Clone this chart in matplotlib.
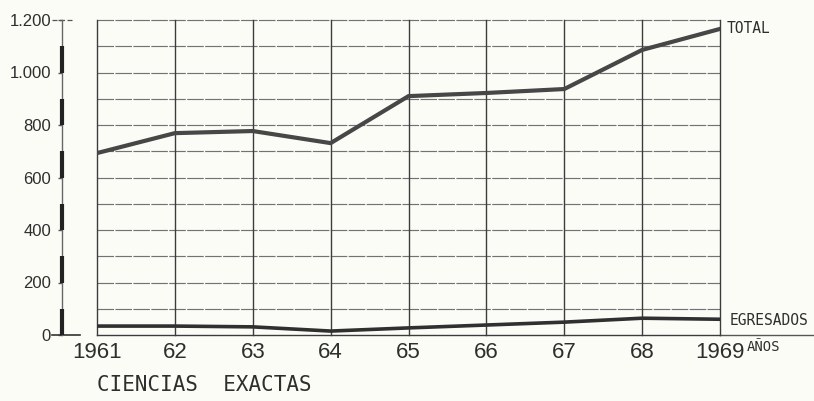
import matplotlib
matplotlib.use("Agg")
import matplotlib.pyplot as plt
import matplotlib.transforms as mtransforms

years = [1961, 1962, 1963, 1964, 1965, 1966, 1967, 1968, 1969]
year_labels = ["1961", "62", "63", "64", "65", "66", "67", "68", "1969"]
total = [693, 769, 777, 731, 910, 922, 937, 1086, 1166]
egresados = [34, 34, 31, 15, 27, 38, 49, 64, 60]
y_ticks = [0, 200, 400, 600, 800, 1000, 1200]
y_labels = ["0", "200", "400", "600", "800", "1.000", "1.200"]

bg = "#fcfcf7"
ink = "#2e2e2e"

fig = plt.figure(figsize=(8.14, 4.01), dpi=100, facecolor=bg)
ax = fig.add_axes([97 / 814, 66 / 401, 623 / 814, 315 / 401])
ax.set_facecolor(bg)

ax.set_xlim(1961, 1969)
ax.set_ylim(0, 1200)

# cuadricula
for y in range(100, 1300, 100):
    ax.axhline(y, color="#727272", lw=0.85, ls=(0, (14, 1.2)), zorder=1,
               clip_on=False)
for x in years:
    ax.axvline(x, color="#3c3c3c", lw=1.0, zorder=1, clip_on=False)

ax.plot(years, total, color="#474747", lw=3.0, solid_joinstyle="miter", zorder=3)
ax.plot(years, egresados, color="#303030", lw=2.6, zorder=3)

for s in ["top", "right"]:
    ax.spines[s].set_visible(False)
ax.spines["bottom"].set_color("#3c3c3c")
ax.spines["bottom"].set_linewidth(1.0)

# eje vertical separado con tramos gruesos
ax.spines["left"].set_position(("outward", 35 * 0.72))
ax.spines["left"].set_color("#666666")
ax.spines["left"].set_linewidth(1.0)
xa = -35 / 623
trans = mtransforms.blended_transform_factory(ax.transAxes, ax.transData)
for y0 in range(0, 1200, 200):
    ax.plot([xa, xa], [y0, y0 + 100], transform=trans, color="#222222",
            lw=3.0, solid_capstyle="butt", clip_on=False, zorder=4)
ax.plot([-45 / 623, -17 / 623], [0, 0], transform=trans, color="#333333",
        lw=1.2, clip_on=False)
ax.plot([-45 / 623, -25 / 623], [1200, 1200], transform=trans, color="#555555",
        lw=0.9, ls=(0, (4, 2)), clip_on=False)
ax.plot([1, 93 / 623 + 1], [0, 0], transform=trans, color="#555555",
        lw=1.0, clip_on=False)

ax.set_yticks(y_ticks)
ax.set_yticklabels(y_labels, fontsize=12, color=ink, family=["Liberation Sans"])
ax.tick_params(axis="y", length=3, width=1, color="#555555", pad=5, direction="out")

ax.set_xticks(years)
ax.set_xticklabels(year_labels, fontsize=16, color=ink, family=["Liberation Sans"])
ax.tick_params(axis="x", length=0, pad=5)

lab = dict(family=["DejaVu Sans Mono"], color=ink, transform=trans,
           clip_on=False, va="center", ha="left")
ax.text(1 + 7 / 623, 1166, "TOTAL", fontsize=10.5, **lab)
ax.text(1 + 10 / 623, 57, "EGRESADOS", fontsize=10.5, **lab)
ax.text(1 + 27 / 623, -47, "AÑOS", fontsize=10, **lab)

fig.text(97 / 814, 1 - 385 / 401, "CIENCIAS  EXACTAS", fontsize=15,
         family=["DejaVu Sans Mono"], color=ink, va="center", ha="left")

fig.savefig("out.png", dpi=100, facecolor=bg)
